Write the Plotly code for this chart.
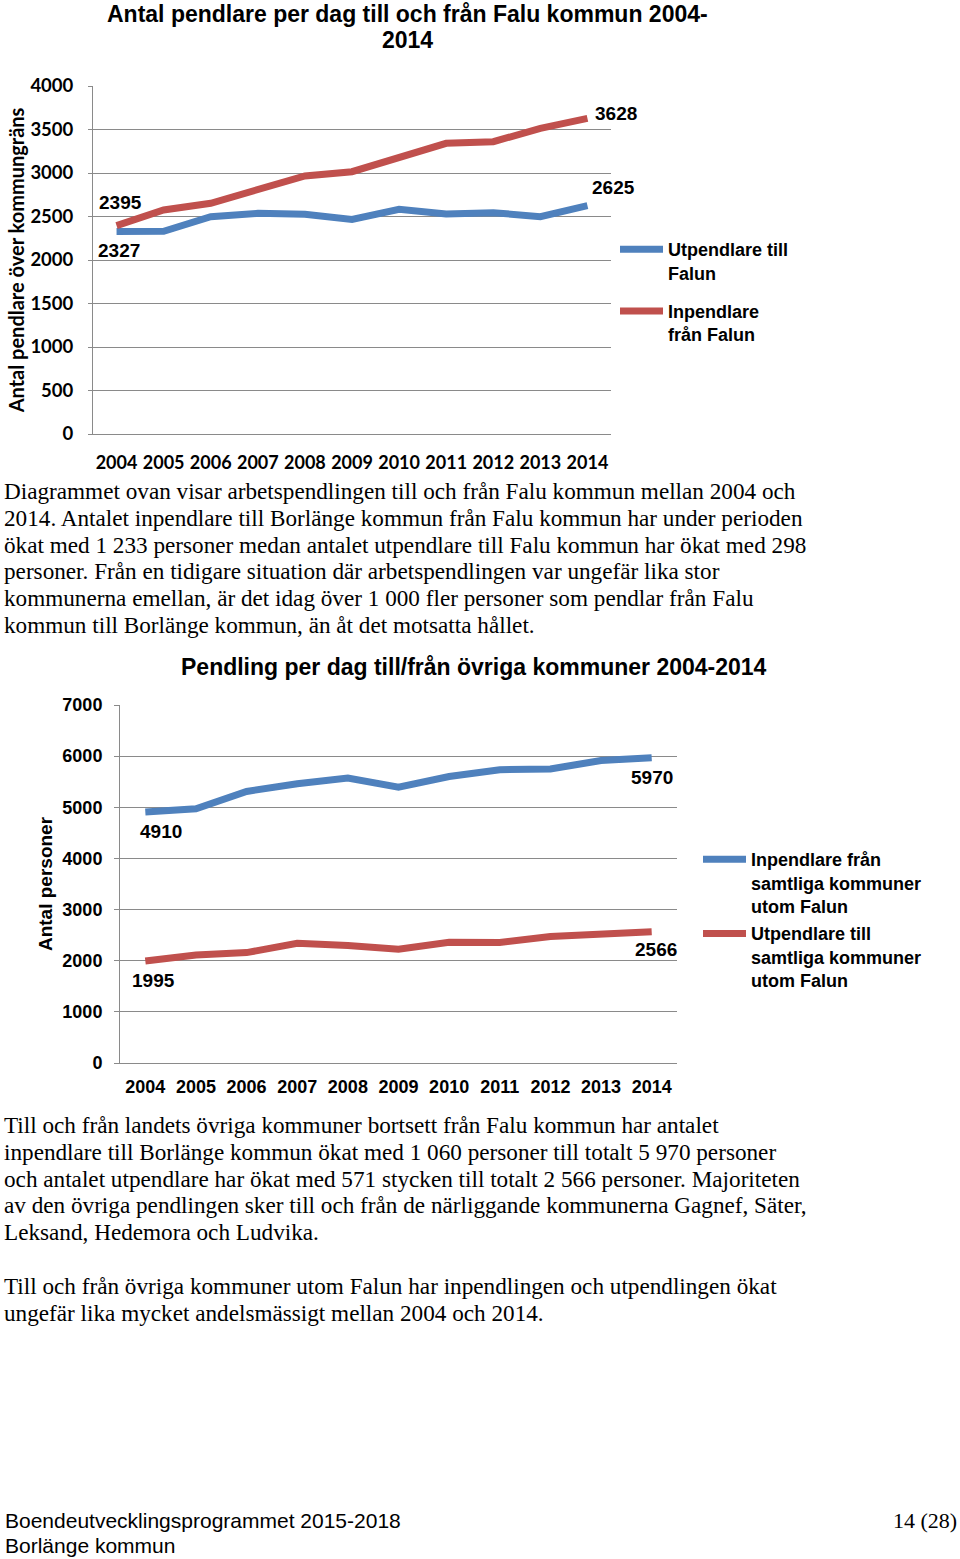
import plotly.graph_objects as go

W, H = 960, 1559

years = [2004, 2005, 2006, 2007, 2008, 2009, 2010, 2011, 2012, 2013, 2014]
year_labels = [str(y) for y in years]
utpendlare_till_falun = [2327, 2330, 2498, 2536, 2525, 2467, 2582, 2529, 2544, 2498, 2625]
inpendlare_fran_falun = [2395, 2575, 2652, 2805, 2966, 3015, 3169, 3341, 3360, 3513, 3628]
inpendlare_ovriga = [4910, 4971, 5310, 5460, 5571, 5395, 5603, 5734, 5750, 5916, 5970]
utpendlare_ovriga = [1995, 2113, 2159, 2342, 2296, 2225, 2362, 2355, 2472, 2505, 2566]

BLUE = "#4F81BD"
RED = "#C0504D"
GRID = "#8a8a8a"

para1 = [
    "Diagrammet ovan visar arbetspendlingen till och från Falu kommun mellan 2004 och",
    "2014. Antalet inpendlare till Borlänge kommun från Falu kommun har under perioden",
    "ökat med 1 233 personer medan antalet utpendlare till Falu kommun har ökat med 298",
    "personer. Från en tidigare situation där arbetspendlingen var ungefär lika stor",
    "kommunerna emellan, är det idag över 1 000 fler personer som pendlar från Falu",
    "kommun till Borlänge kommun, än åt det motsatta hållet.",
]
para2 = [
    "Till och från landets övriga kommuner bortsett från Falu kommun har antalet",
    "inpendlare till Borlänge kommun ökat med 1 060 personer till totalt 5 970 personer",
    "och antalet utpendlare har ökat med 571 stycken till totalt 2 566 personer. Majoriteten",
    "av den övriga pendlingen sker till och från de närliggande kommunerna Gagnef, Säter,",
    "Leksand, Hedemora och Ludvika.",
]
para3 = [
    "Till och från övriga kommuner utom Falun har inpendlingen och utpendlingen ökat",
    "ungefär lika mycket andelsmässigt mellan 2004 och 2014.",
]

ARIAL = "Liberation Sans"
CAL = "Lato"
SERIF = "Liberation Serif"

fig = go.Figure()

fig.add_trace(go.Scatter(x=years, y=utpendlare_till_falun, mode="lines",
                         name="Utpendlare till<br>Falun", legendgroup="a",
                         line=dict(color=BLUE, width=7), xaxis="x", yaxis="y", legend="legend"))
fig.add_trace(go.Scatter(x=years, y=inpendlare_fran_falun, mode="lines",
                         name="Inpendlare<br>från Falun", legendgroup="b",
                         line=dict(color=RED, width=7), xaxis="x", yaxis="y", legend="legend"))
fig.add_trace(go.Scatter(x=years, y=inpendlare_ovriga, mode="lines",
                         name="Inpendlare från<br>samtliga kommuner<br>utom Falun", legendgroup="c",
                         line=dict(color=BLUE, width=7), xaxis="x2", yaxis="y2", legend="legend2"))
fig.add_trace(go.Scatter(x=years, y=utpendlare_ovriga, mode="lines",
                         name="Utpendlare till<br>samtliga kommuner<br>utom Falun", legendgroup="d",
                         line=dict(color=RED, width=7), xaxis="x2", yaxis="y2", legend="legend2"))


def px(x):
    return x / W


def py(y):
    return 1 - y / H


ann = []


def text_line(x, y, s, size, family, color="black", xanchor="left", weight="normal"):
    ann.append(dict(xref="paper", yref="paper", x=px(x), y=py(y), text=s, showarrow=False,
                    xanchor=xanchor, yanchor="middle",
                    font=dict(family=family, size=size, color=color, weight=weight)))


# titles
text_line(407, 14, "Antal pendlare per dag till och från Falu kommun 2004-", 23, ARIAL,
          xanchor="center", weight="bold")
text_line(407, 40, "2014", 23, ARIAL, xanchor="center", weight="bold")
text_line(474, 667, "Pendling per dag till/från övriga kommuner 2004-2014", 23, ARIAL,
          xanchor="center", weight="bold")

# paragraphs
for i, s in enumerate(para1):
    text_line(2, 491 + i * 26.8, s, 23.2, SERIF)
for i, s in enumerate(para2):
    text_line(2, 1125 + i * 26.8, s, 23.2, SERIF)
for i, s in enumerate(para3):
    text_line(2, 1286 + i * 26.5, s, 23.2, SERIF)

# footer
text_line(3, 1520, "Boendeutvecklingsprogrammet 2015-2018", 21, ARIAL)
text_line(3, 1545, "Borlänge kommun", 21, ARIAL)
text_line(959, 1520, "14 (28)", 22, SERIF, xanchor="right")


def data_label(xr, yr, series, idx, xs, ys):
    ann.append(dict(xref=xr, yref=yr, x=years[idx], y=series[idx], text=str(series[idx]),
                    showarrow=False, xshift=xs, yshift=ys, xanchor="center", yanchor="middle",
                    font=dict(family=ARIAL, size=19, color="black", weight="bold")))


data_label("x", "y", inpendlare_fran_falun, 0, 4, 23)
data_label("x", "y", utpendlare_till_falun, 0, 2, -19)
data_label("x", "y", inpendlare_fran_falun, -1, 29, 5)
data_label("x", "y", utpendlare_till_falun, -1, 26, 18)
data_label("x2", "y2", inpendlare_ovriga, 0, 16, -20)
data_label("x2", "y2", inpendlare_ovriga, -1, 0, -20)
data_label("x2", "y2", utpendlare_ovriga, -1, 4, -18)
data_label("x2", "y2", utpendlare_ovriga, 0, 8, -20)

fig.update_layout(
    width=W, height=H,
    margin=dict(l=0, r=0, t=0, b=0, autoexpand=False),
    paper_bgcolor="white", plot_bgcolor="white",
    showlegend=True,
    annotations=ann,
    xaxis=dict(domain=[px(93), px(611)], anchor="y", range=[2003.5, 2014.5],
               tickvals=years, ticktext=year_labels,
               showgrid=False, showline=True, linecolor=GRID, linewidth=1, zeroline=False,
               ticks="", ticklabelstandoff=12,
               tickfont=dict(family=CAL, size=18, color="black", weight="bold")),
    yaxis=dict(domain=[py(434), py(86)], anchor="x", range=[0, 4000], dtick=500,
               showgrid=True, gridcolor=GRID, gridwidth=1, zeroline=False,
               showline=True, linecolor=GRID, linewidth=1,
               ticks="outside", ticklen=4, tickcolor=GRID, ticklabelstandoff=11,
               tickfont=dict(family=CAL, size=18.5, color="black", weight="bold"),
               title=dict(text="Antal pendlare över kommungräns", standoff=0,
                          font=dict(family=CAL, size=20, color="black", weight="bold"))),
    xaxis2=dict(domain=[px(120), px(677)], anchor="y2", range=[2003.5, 2014.5],
                tickvals=years, ticktext=year_labels,
                showgrid=False, showline=True, linecolor=GRID, linewidth=1, zeroline=False,
                ticks="", ticklabelstandoff=7,
                tickfont=dict(family=ARIAL, size=18, color="black", weight="bold")),
    yaxis2=dict(domain=[py(1063), py(705)], anchor="x2", range=[0, 7000], dtick=1000,
                showgrid=True, gridcolor=GRID, gridwidth=1, zeroline=False,
                showline=True, linecolor=GRID, linewidth=1,
                ticks="outside", ticklen=5, tickcolor=GRID, ticklabelstandoff=8,
                tickfont=dict(family=ARIAL, size=18, color="black", weight="bold"),
                title=dict(text="Antal personer", standoff=4,
                           font=dict(family=ARIAL, size=19, color="black", weight="bold"))),
    legend=dict(x=px(615), y=py(231), xanchor="left", yanchor="top",
                traceorder="grouped", tracegroupgap=12, valign="top", itemwidth=43,
                bgcolor="rgba(0,0,0,0)", borderwidth=0,
                font=dict(family=ARIAL, size=18, color="black", weight="bold")),
    legend2=dict(x=px(698), y=py(841), xanchor="left", yanchor="top",
                 traceorder="grouped", tracegroupgap=1, valign="top", itemwidth=43,
                 bgcolor="rgba(0,0,0,0)", borderwidth=0,
                 font=dict(family=ARIAL, size=18, color="black", weight="bold")),
)

fig.write_html("out.html", config={"displayModeBar": False},
               post_script="document.body.style.margin='0px';")
